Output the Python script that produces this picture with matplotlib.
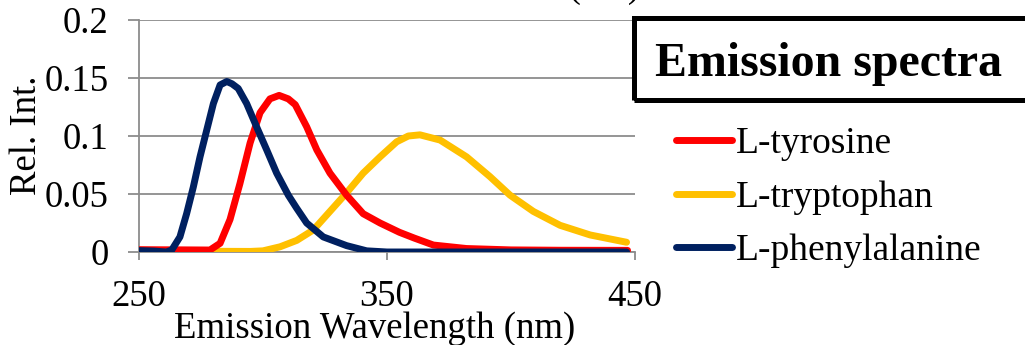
import numpy as np
import matplotlib
matplotlib.use("Agg")
import matplotlib.pyplot as plt
from matplotlib.patches import Rectangle
from matplotlib.lines import Line2D

plt.rcParams['font.family'] = ['Liberation Serif', 'DejaVu Serif']

# emission spectra (wavelength nm, relative intensity)
tyr_x = [250, 260, 270, 278.6, 282.7, 286.7, 290.7, 294.8, 298.8, 302.8, 306.5, 310.2,
         313, 317.6, 321.7, 327, 333.7, 340.4, 347.2, 355, 361, 368.7, 382, 400, 420, 447]
tyr_y = [0.002, 0.0019, 0.0018, 0.0017, 0.0075, 0.028, 0.059, 0.094, 0.120, 0.132, 0.135,
         0.132, 0.127, 0.108, 0.088, 0.068, 0.049, 0.033, 0.025, 0.017, 0.012, 0.006,
         0.003, 0.0018, 0.0015, 0.0014]

trp_x = [250, 265, 280, 295, 300, 306.9, 313.6, 320.3, 327, 333.7, 340.4, 347.2, 353.9,
         358.6, 363.3, 371.4, 382.1, 391.5, 399.6, 409, 419.8, 431.9, 446.6]
trp_y = [0.0015, 0.001, 0.0006, 0.0005, 0.001, 0.0045, 0.010, 0.019, 0.035, 0.051, 0.068,
         0.082, 0.095, 0.100, 0.101, 0.0965, 0.082, 0.065, 0.049, 0.035, 0.023, 0.0147,
         0.0084]

phe_x = [250, 256, 261, 263.2, 266.5, 269.2, 271.9, 274.6, 277.3, 280, 282.7, 285.4,
         287.5, 290, 293.4, 297.4, 301.5, 305.5, 310.2, 313.5, 317.6, 324.3, 333.7, 341.8,
         350, 400, 446.6]
phe_y = [0.0012, 0.0008, 0.0, 0.0017, 0.013, 0.033, 0.056, 0.082, 0.105, 0.128, 0.144,
         0.147, 0.145, 0.141, 0.128, 0.108, 0.088, 0.068, 0.049, 0.038, 0.025, 0.013,
         0.0055, 0.001, 0.0, 0.0, 0.0]

names = ['L-tyrosine', 'L-tryptophan', 'L-phenylalanine']
colors = ['#ff0000', '#ffc000', '#002060']
series = [(tyr_x, tyr_y), (trp_x, trp_y), (phe_x, phe_y)]

y_ticks = [0, 0.05, 0.1, 0.15, 0.2]
y_labels = ['0', '0.05', '0.1', '0.15', '0.2']
x_ticks = [250, 350, 450]

W, H = 1025, 345
fig = plt.figure(figsize=(W / 100, H / 100), dpi=100)
ax = fig.add_axes([139 / W, 1 - 252 / H, (635 - 139) / W, (252 - 20) / H])

# tryptophan first so that tyrosine / phenylalanine sit on top like the original
for i in [1, 0, 2]:
    ax.plot(series[i][0], series[i][1], color=colors[i], lw=5,
            solid_capstyle='round', solid_joinstyle='round', zorder=3)

ax.set_xlim(250, 450)
ax.set_ylim(0, 0.2)
ax.set_xticks(x_ticks)
ax.set_yticks(y_ticks)
ax.set_yticklabels(y_labels)
ax.grid(axis='y', color='#8c8c8c', lw=1.3)
ax.set_axisbelow(True)
for s in ['top', 'right']:
    ax.spines[s].set_visible(False)
for s in ['left', 'bottom']:
    ax.spines[s].set_color('#8c8c8c')
    ax.spines[s].set_linewidth(1.3)
ax.tick_params(axis='x', length=6, width=1.3, color='#8c8c8c', labelsize=26.5, pad=14)
ax.tick_params(axis='y', length=8, width=1.3, color='#8c8c8c', labelsize=26.5, pad=14)
ax.set_xlabel('Emission Wavelength (nm)', fontsize=26.5)
ax.xaxis.set_label_coords((375 - 139) / 496, -(338 - 252) / 232)
ax.xaxis.label.set_va('baseline')
ax.set_ylabel('Rel. Int.', fontsize=26.5)
ax.yaxis.set_label_coords(-(139 - 10) / 496, (252 - 135) / 232)
ax.yaxis.label.set_va('top')

# leftover from a title cut off above the chart
fig.text(640 / W, 1 + 3 / H, 'Excitation λ (nm)', fontsize=26.5, ha='right', va='baseline')

# framed heading
fig.patches.append(Rectangle((634 / W, 1 - 100 / H), 420 / W, 82 / H,
                             transform=fig.transFigure, fill=False, ec='black',
                             lw=3.6, clip_on=False))
fig.text(655 / W, 1 - 76 / H, 'Emission spectra', fontsize=34.5, fontweight='bold',
         va='baseline')

handles = [Line2D([], [], color=c, lw=5, solid_capstyle='round') for c in colors]
leg = fig.legend(handles, names, loc='upper left', bbox_to_anchor=(676 / W, 1 - 127 / H),
                 frameon=False, fontsize=27, handlelength=1.5, handletextpad=0.1,
                 labelspacing=0.5, borderpad=0, borderaxespad=0)

fig.savefig('out.png', dpi=100)
